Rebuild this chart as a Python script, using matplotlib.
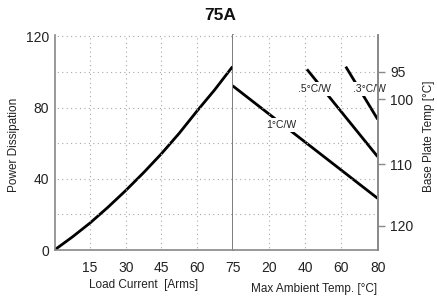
import matplotlib
matplotlib.use("Agg")
import matplotlib.pyplot as plt
from matplotlib.ticker import FixedLocator

plt.rcParams['font.family'] = ['Liberation Sans', 'DejaVu Sans']

# Data
load_current = [0, 7.5, 15, 22.5, 30, 37.5, 45, 52.5, 60, 67.5, 75]
power_diss = [0, 7.3, 15.2, 24.0, 33.4, 43.4, 54.0, 65.5, 78.0, 90.0, 103.0]

hs_labels = ["1°C/W", ".5°C/W", ".3°C/W"]
hs_temp = [[0, 80], [41, 80], [62.4, 80]]
hs_power = [[92.3, 29.0], [101.5, 52.4], [103.0, 73.4]]
hs_label_pos = [(26.7, 70.2), (45.3, 90.3), (75.6, 90.3)]

left_xticks = [15, 30, 45, 60, 75]
right_xticks = [20, 40, 60, 80]
power_ticks = [0, 40, 80, 120]
power_minor = [20, 60, 100]
base_temps = [95, 100, 110, 120]
base_temp_power = [100.2, 84.8, 48.3, 13.5]

W, H = 437, 297
fig = plt.figure(figsize=(W / 100, H / 100), dpi=100)

x0, xm, x1 = 54.5, 232.5, 377.7
ybot, ytop = 250.0, 34.6
ax1 = fig.add_axes([x0 / W, 1 - ybot / H, (xm - x0) / W, (ybot - ytop) / H])
ax2 = fig.add_axes([xm / W, 1 - ybot / H, (x1 - xm) / W, (ybot - ytop) / H])

spine_c = '#888888'
grid_kw = dict(color='#a8a8a8', linestyle=(2, (1, 3)), linewidth=0.8)
txt_c = '#222222'

for ax in (ax1, ax2):
    ax.set_ylim(0, 121)
    ax.yaxis.set_major_locator(FixedLocator(power_ticks))
    ax.yaxis.set_minor_locator(FixedLocator(power_minor))
    ax.grid(True, which='both', axis='y', **grid_kw)
    ax.grid(True, which='major', axis='x', **grid_kw)
    ax.spines['top'].set_visible(False)
    for s in ax.spines.values():
        s.set_color(spine_c)
        s.set_linewidth(1.2)
    ax.tick_params(axis='x', length=0, pad=8, labelsize=10, colors=txt_c)

# Left panel
ax1.plot(load_current, power_diss, color='black', lw=2.0, zorder=1.5,
         solid_capstyle='butt')
ax1.set_xlim(0, 75)
ax1.set_xticks(left_xticks)
ax1.tick_params(axis='y', which='both', length=0, pad=4, labelsize=10, colors=txt_c)
ax1.spines['right'].set_color('#666666')
ax1.set_xlabel("Load Current  [Arms]", fontsize=8.5, color=txt_c, labelpad=3)
ax1.set_ylabel("Power Dissipation", fontsize=8.5, color=txt_c)
ax1.yaxis.set_label_coords(-0.195, 0.49)

# Right panel
ax2.set_xlim(0, 80)
ax2.set_xticks(right_xticks)
ax2.spines['left'].set_visible(False)
for t, p in zip(hs_temp, hs_power):
    ax2.plot(t, p, color='black', lw=2.0, zorder=1.5, solid_capstyle='butt')
for lab, (lx, ly) in zip(hs_labels, hs_label_pos):
    ax2.text(lx, ly, lab, fontsize=7.5, ha='center', va='center', color=txt_c,
             zorder=2, clip_on=False,
             bbox=dict(facecolor='white', edgecolor='none', pad=1.5))

axr = ax2.twinx()
ax2.tick_params(axis='y', which='both', left=False, right=False,
                labelleft=False, labelright=False, length=0)
axr.set_ylim(0, 121)
axr.set_yticks(base_temp_power)
axr.set_yticklabels([str(v) for v in base_temps])
axr.yaxis.set_minor_locator(FixedLocator([]))
axr.tick_params(axis='y', length=5, width=1, color=spine_c, pad=4,
                labelsize=10, colors=txt_c)
axr.tick_params(axis='y', color=spine_c)
for s in axr.spines.values():
    s.set_visible(False)
axr.spines['right'].set_visible(True)
axr.spines['right'].set_color(spine_c)
axr.spines['right'].set_linewidth(1.2)
axr.set_ylabel("Base Plate Temp [°C]", fontsize=8.5, color=txt_c)
axr.yaxis.set_label_coords(1.31, 0.53)

ax2.set_xlabel("Max Ambient Temp. [°C]", fontsize=8.5, color=txt_c, labelpad=3)
ax2.xaxis.set_label_coords(0.56, -0.155)

fig.text(220 / W, 1 - 16 / H, "75A", fontsize=12.5, fontweight='bold',
         ha='center', va='center', color='#111111')

fig.savefig("out.png", dpi=100)
